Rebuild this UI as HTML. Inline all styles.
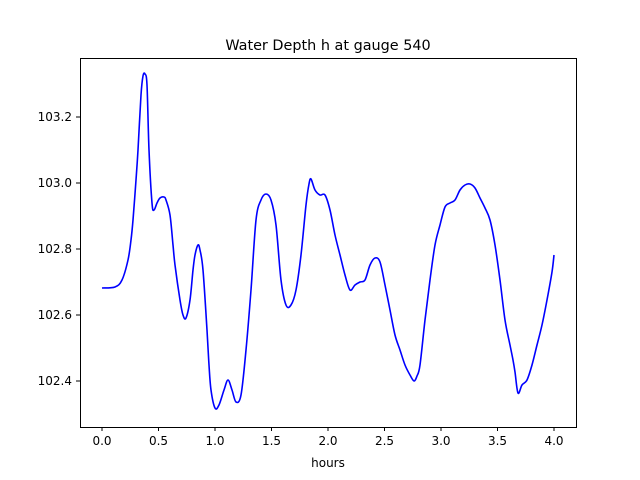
<!DOCTYPE html>
<html><head><style>body{margin:0;background:#fff}svg{display:block;font-family:"DejaVu Sans",sans-serif}</style></head><body>
<svg width="640" height="480" xmlns="http://www.w3.org/2000/svg">
<rect width="640" height="480" fill="#fff"/>
<polyline id="ln" fill="none" stroke="#0000ff" stroke-width="1.6" stroke-linejoin="round" points="102,288 115,287 122,280 128,260 131,240 133,220 136,180 138,150 141,95 143,76 145,74 147,85 149,150 152,203 154,210 157,203 160,198 164,197 166,200 170,215 173,245 175,265 180,300 183,315 186,318 190,300 193,270 195,255 198,245 200,250 203,270 207,330 209,365 211,390 215,408 219,405 224,390 228,380 232,390 236,402 241,395 246,350 251,290 256,220 261,200 266,194 271,200 276,225 281,280 286,305 291,305 296,290 301,255 306,205 309,184 311,179 315,190 320,195 325,195 330,210 335,235 340,255 345,275 350,290 355,285 360,282 365,280 370,265 375,258 380,262 385,285 390,310 395,335 400,350 405,365 410,375 414,381 417,376 420,365 425,320 430,280 435,245 440,225 445,207 450,203 455,200 460,190 465,185 470,184 475,188 480,198 485,208 490,220 495,245 500,280 505,320 510,345 513,360 515,372 518,393 522,385 527,380 532,365 537,345 542,325 547,300 552,272 554,255"/>
<rect x="80.5" y="58.5" width="496" height="369" fill="none" stroke="#000" stroke-width="1"/>
<g stroke="#000" stroke-width="1">
<line x1="102" y1="427" x2="102" y2="431"/><line x1="158.5" y1="427" x2="158.5" y2="431"/><line x1="215" y1="427" x2="215" y2="431"/><line x1="271.5" y1="427" x2="271.5" y2="431"/><line x1="328" y1="427" x2="328" y2="431"/><line x1="384.5" y1="427" x2="384.5" y2="431"/><line x1="441" y1="427" x2="441" y2="431"/><line x1="497.5" y1="427" x2="497.5" y2="431"/><line x1="554" y1="427" x2="554" y2="431"/>
<line x1="76" y1="381" x2="80" y2="381"/><line x1="76" y1="315" x2="80" y2="315"/><line x1="76" y1="249" x2="80" y2="249"/><line x1="76" y1="183" x2="80" y2="183"/><line x1="76" y1="117" x2="80" y2="117"/>
</g>
<g font-size="12" fill="#000" text-anchor="middle">
<text x="102" y="445">0.0</text><text x="158.5" y="445">0.5</text><text x="215" y="445">1.0</text><text x="271.5" y="445">1.5</text><text x="328" y="445">2.0</text><text x="384.5" y="445">2.5</text><text x="441" y="445">3.0</text><text x="497.5" y="445">3.5</text><text x="554" y="445">4.0</text>
<text x="328" y="467">hours</text>
</g>
<g font-size="12" fill="#000" text-anchor="end">
<text x="72" y="385">102.4</text><text x="72" y="319">102.6</text><text x="72" y="253">102.8</text><text x="72" y="187">103.0</text><text x="72" y="121">103.2</text>
</g>
<text x="328" y="50" font-size="14.4" text-anchor="middle">Water Depth h at gauge 540</text>
</svg>
<script>
(function(){
var pl=document.getElementById('ln');
var p=pl.getAttribute('points').trim().split(/\s+/).map(function(s){return s.split(',').map(Number);});
var d='M'+p[0][0]+','+p[0][1];
for(var i=0;i<p.length-1;i++){
var p0=p[Math.max(i-1,0)],p1=p[i],p2=p[i+1],p3=p[Math.min(i+2,p.length-1)];
var c1x=p1[0]+(p2[0]-p0[0])/6,c1y=p1[1]+(p2[1]-p0[1])/6;
var c2x=p2[0]-(p3[0]-p1[0])/6,c2y=p2[1]-(p3[1]-p1[1])/6;
d+=' C'+c1x+','+c1y+' '+c2x+','+c2y+' '+p2[0]+','+p2[1];
}
var path=document.createElementNS('http://www.w3.org/2000/svg','path');
path.setAttribute('d',d);path.setAttribute('fill','none');path.setAttribute('stroke','#0000ff');path.setAttribute('stroke-width','1.6');
pl.parentNode.replaceChild(path,pl);
})();
</script>
</body></html>
